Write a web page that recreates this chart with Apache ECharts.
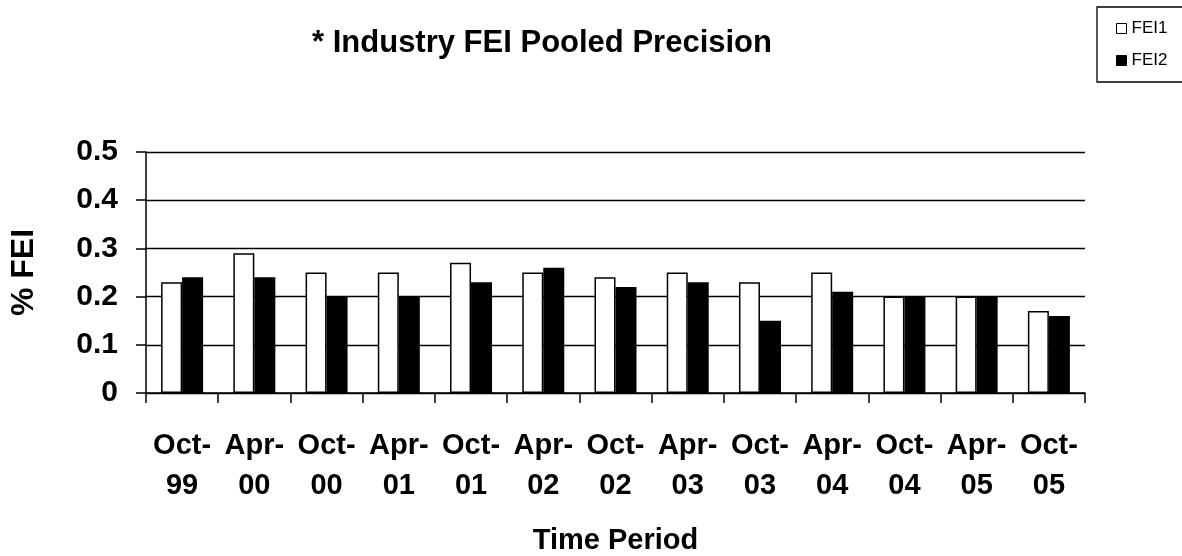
<!DOCTYPE html>
<html>
<head>
<meta charset="utf-8">
<script src="https://cdn.jsdelivr.net/npm/echarts@6/dist/echarts.min.js"></script>
<style>
  html, body { margin: 0; padding: 0; background: #fff; }
  #chart { width: 1182px; height: 556px; }
</style>
</head>
<body>
<div id="chart"></div>
<script>
const periods = ["Oct-\n99", "Apr-\n00", "Oct-\n00", "Apr-\n01", "Oct-\n01", "Apr-\n02", "Oct-\n02",
  "Apr-\n03", "Oct-\n03", "Apr-\n04", "Oct-\n04", "Apr-\n05", "Oct-\n05"];
const fei1 = [0.23, 0.29, 0.25, 0.25, 0.27, 0.25, 0.24, 0.25, 0.23, 0.25, 0.2, 0.2, 0.17];
const fei2 = [0.24, 0.24, 0.2, 0.2, 0.23, 0.26, 0.22, 0.23, 0.15, 0.21, 0.2, 0.2, 0.16];

const font = "Arial, 'Liberation Sans', sans-serif";
const chart = echarts.init(document.getElementById("chart"));

chart.setOption({
  animation: false,
  title: {
    text: "* Industry FEI Pooled Precision",
    left: 537,
    top: 23,
    textAlign: "center",
    textStyle: { fontFamily: font, fontWeight: "bold", fontSize: 31, color: "#000" }
  },
  legend: {
    orient: "vertical",
    left: 1097,
    top: 7,
    padding: [12, 40, 12, 19],
    itemGap: 13,
    itemWidth: 10,
    itemHeight: 10,
    borderColor: "#000",
    borderWidth: 1.3,
    textStyle: { fontFamily: font, fontSize: 17, color: "#000", lineHeight: 19 },
    data: [
      { name: "FEI1", icon: "rect", itemStyle: { color: "#fff", borderColor: "#000", borderWidth: 1 } },
      { name: "FEI2", icon: "rect", itemStyle: { color: "#000", borderColor: "#000", borderWidth: 1 } }
    ]
  },
  grid: { left: 143, right: 97, top: 152, bottom: 157 },
  xAxis: {
    type: "category",
    data: periods,
    name: "Time Period",
    nameLocation: "middle",
    nameGap: 133,
    nameTextStyle: { fontFamily: font, fontWeight: "bold", fontSize: 29, color: "#000" },
    axisLine: { lineStyle: { color: "#000", width: 1.5 } },
    axisTick: { show: true, alignWithLabel: false, length: 10, lineStyle: { color: "#000", width: 1.5 } },
    axisLabel: {
      interval: 0,
      margin: 33,
      fontFamily: font,
      fontWeight: "bold",
      fontSize: 29,
      lineHeight: 40,
      color: "#000"
    }
  },
  yAxis: {
    type: "value",
    min: 0,
    max: 0.5,
    interval: 0.1,
    name: "% FEI",
    nameLocation: "middle",
    nameRotate: 90,
    nameGap: 106,
    nameTextStyle: { fontFamily: font, fontWeight: "bold", fontSize: 32, color: "#000" },
    axisLine: { show: true, lineStyle: { color: "#000", width: 1.5 } },
    axisTick: { show: true, length: 10, lineStyle: { color: "#000", width: 1.5 } },
    axisLabel: { margin: 28, fontFamily: font, fontWeight: "bold", fontSize: 30, color: "#000" },
    splitLine: { show: true, lineStyle: { color: "#000", width: 1.3 } }
  },
  series: [
    {
      name: "FEI1",
      type: "bar",
      data: fei1,
      barWidth: 21,
      barGap: "0%",
      itemStyle: { color: "#fff", borderColor: "#000", borderWidth: 1.5 }
    },
    {
      name: "FEI2",
      type: "bar",
      data: fei2,
      barWidth: 21,
      barGap: "0%",
      itemStyle: { color: "#000", borderColor: "#000", borderWidth: 1.5 }
    }
  ]
});
</script>
</body>
</html>
